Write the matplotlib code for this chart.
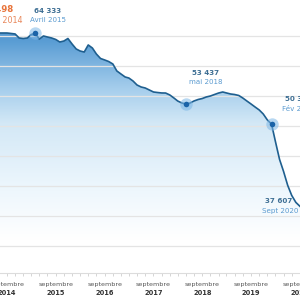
import numpy as np
import pandas as pd
import matplotlib
matplotlib.use("Agg")
import matplotlib.pyplot as plt
import matplotlib.dates as mdates
from matplotlib.colors import LinearSegmentedColormap
from matplotlib.patches import PathPatch

# monthly values, July 2014 -> Sept 2020
months = pd.date_range("2014-07-01", "2020-09-01", freq="MS")
values = [
    64410, 64410, 64410, 64340, 64260, 63640, 63560, 63640, 64180, 64333,
    63480, 63950, 63790, 63640, 63410, 63020, 63170, 63560, 62710, 61940,
    61630, 61470, 62560, 62090, 61160, 60470, 60240, 60000, 59620, 58540,
    58070, 57610, 57450, 56990, 56370, 56060, 55910, 55600, 55290, 55210,
    55140, 55130, 54830, 54360, 53900, 53590, 53437, 53580, 53900, 54130,
    54280, 54520, 54670, 54900, 55130, 55290, 55140, 54980, 54900, 54750,
    54360, 53890, 53430, 52970, 52510, 51890, 50960, 50336, 47650, 44870,
    43010, 40850, 39300, 38220, 37607,
]

# highlighted points
hl_dates = ["2015-04-01", "2018-05-01", "2020-02-01"]
hl_values = [64333, 53437, 50336]
hl_labels = ["Avril 2015", "mai 2018", "Fév 2020"]
min_date, min_value, min_label = "2020-09-01", 37607, "Sept 2020"
max_value_txt, max_label = "64 498", "Février 2014"

years = list(range(2014, 2021))


def fmt(v):
    return f"{v:,}".replace(",", " ")


fig = plt.figure(figsize=(3, 3), dpi=100)
ax = fig.add_axes([0, 27 / 300, 1, 273 / 300])

x = mdates.date2num(months)
y = np.array(values, dtype=float)

ylo, yhi = 27306, 69512
xlo = mdates.date2num(pd.Timestamp("2014-07-11"))
xhi = mdates.date2num(pd.Timestamp("2020-07-10"))

# gradient fill under the curve
cmap = LinearSegmentedColormap.from_list(
    "fillgrad",
    [(0.0, "#ffffff"), (0.12, "#ffffff"), (0.30, "#eef7fd"),
     (0.55, "#d3e8f6"), (0.68, "#a4cdec"), (0.85, "#5a9dd4"), (1.0, "#468ecd")])
grad = np.linspace(0, 1, 256).reshape(-1, 1)
poly = ax.fill_between(x, y, ylo, color="none", lw=0)
img = ax.imshow(grad, cmap=cmap, origin="lower", aspect="auto",
                extent=[x[0], x[-1], ylo, yhi], zorder=1)
patch = PathPatch(poly.get_paths()[0], transform=ax.transData,
                  facecolor="none", edgecolor="none")
ax.add_patch(patch)
img.set_clip_path(patch)
ax.set_xlim(xlo, xhi)
ax.set_ylim(ylo, yhi)

# grid lines
grid_y = 63950 - 4638 * np.arange(8)
for gy in grid_y:
    ax.axhline(gy, color="#e4e4e4", lw=0.9, zorder=2)

ax.plot(x, y, color="#1f5f8f", lw=1.2, zorder=4)

# highlighted markers
hx = mdates.date2num(pd.to_datetime(hl_dates))
ax.scatter(hx, hl_values, s=80, color="#7db7e6", alpha=0.55, lw=0, zorder=5)
ax.scatter(hx, hl_values, s=16, color="#1a63a8", lw=0, zorder=6)

num_col, lab_col = "#3e6f94", "#5b9bd0"
offsets = [((9, 16), (9, 9.5)), ((14, 22), (14, 15.5)), ((19.5, 18), (19.5, 11))]
for xd, v, lab, (o1, o2) in zip(hx, hl_values, hl_labels, offsets):
    ax.annotate(fmt(v), (xd, v), xytext=o1, textcoords="offset points",
                ha="center", va="center", fontsize=5.1, fontweight="bold",
                color=num_col, zorder=7)
    ax.annotate(lab, (xd, v), xytext=o2, textcoords="offset points",
                ha="center", va="center", fontsize=5.1, color=lab_col, zorder=7)

mx = mdates.date2num(pd.Timestamp(min_date))
ax.annotate(fmt(min_value), (mx, min_value), xytext=(-15, 4), textcoords="offset points",
            ha="center", va="center", fontsize=5.1, fontweight="bold",
            color=num_col, annotation_clip=False)
ax.annotate(min_label, (mx, min_value), xytext=(-14, -3), textcoords="offset points",
            ha="center", va="center", fontsize=5.1, color=lab_col,
            annotation_clip=False)

# max label (cut by the frame on the left)
ax.text(13 / 300, 1 - 9.5 / 273, max_value_txt, transform=ax.transAxes, ha="right",
        va="center", fontsize=6.2, fontweight="bold", color="#e8743b")
ax.text(23 / 300, 1 - 20.5 / 273, max_label, transform=ax.transAxes, ha="right",
        va="center", fontsize=5.8, color="#e8875a")

# x axis
for s in ["top", "left", "right"]:
    ax.spines[s].set_visible(False)
ax.spines["bottom"].set_color("#dcdcdc")
ax.spines["bottom"].set_linewidth(0.8)
ax.set_yticks([])
sept = [mdates.date2num(pd.Timestamp(f"{yr}-09-01")) for yr in years]
ax.set_xticks(sept)
ax.set_xticklabels(["septembre"] * len(years), fontsize=4.6, color="#555555")
ax.xaxis.set_minor_locator(mdates.MonthLocator(bymonth=[1, 3, 5, 7, 11]))
ax.tick_params(axis="x", which="both", length=2.5, width=0.6, color="#cfcfcf", pad=4)
for xs, yr in zip(sept, years):
    ax.text(xs, -20 / 273, str(yr), transform=ax.get_xaxis_transform(),
            ha="center", va="center", fontsize=4.8, fontweight="bold", color="#333333")

fig.savefig("out.png", dpi=100)
